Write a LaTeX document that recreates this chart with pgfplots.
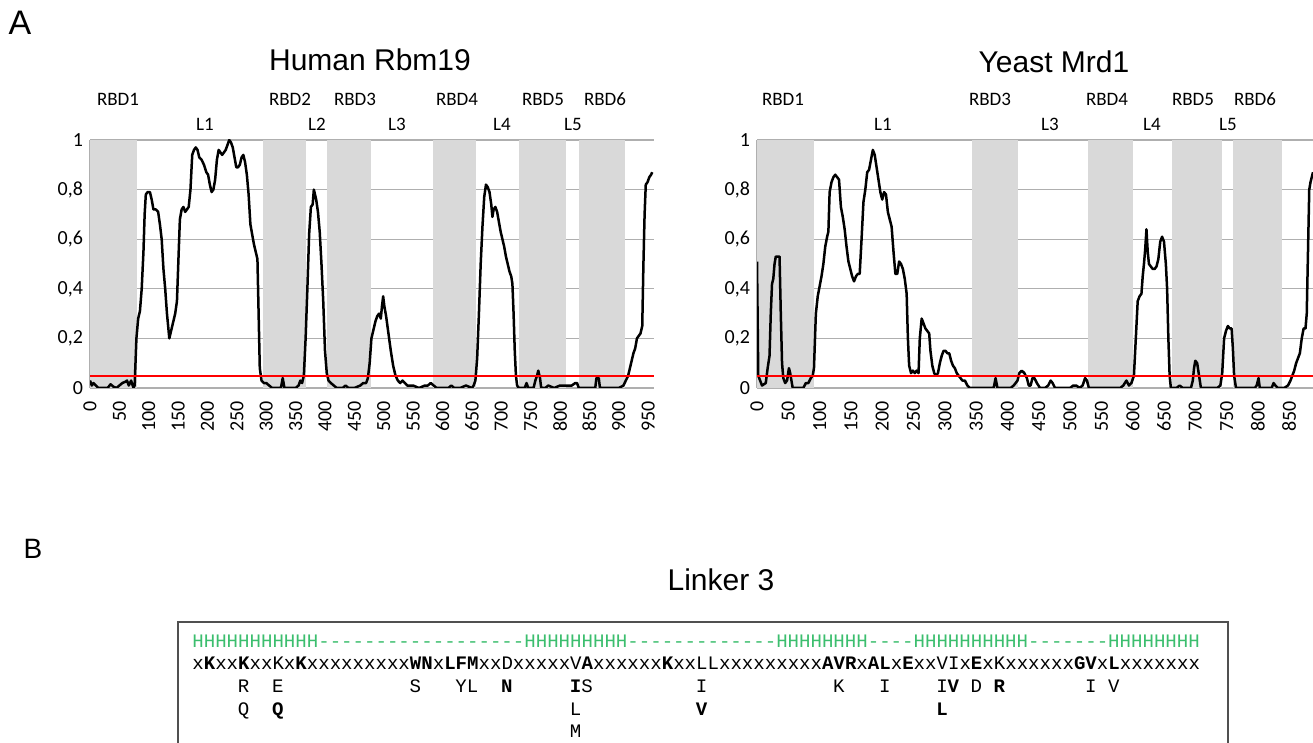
\documentclass[border=0pt]{standalone}
\usepackage{fontspec}
\usepackage{pgfplots}
\pgfplotsset{compat=1.18}
\usepackage{pgfplotstable}
\setmainfont{Liberation Sans}
\newfontfamily\chartfont{Carlito}
\newfontfamily\seqfont{Liberation Mono}

\definecolor{bandgray}{RGB}{217,217,217}
\definecolor{gridgray}{RGB}{175,175,175}
\definecolor{helixgreen}{RGB}{60,190,110}
\definecolor{boxgray}{RGB}{80,80,80}

% disorder profile, human Rbm19
\pgfplotstableread{
x y
0 0.03
3 0.01
6 0.02
10 0.01
14 0.0
20 0.0
30 0.0
35 0.015
40 0.005
45 0.0
50 0.01
55 0.02
60 0.025
63 0.03
66 0.01
70 0.03
74 0.0
76 0.01
79 0.2
82 0.28
85 0.31
88 0.4
91 0.55
93 0.7
95 0.78
98 0.79
102 0.79
105 0.76
108 0.72
112 0.72
116 0.71
119 0.66
122 0.6
125 0.48
128 0.4
131 0.3
135 0.2
138 0.23
142 0.27
145 0.3
148 0.35
151 0.55
153 0.68
156 0.72
159 0.73
162 0.71
165 0.72
168 0.73
171 0.8
174 0.94
177 0.96
180 0.97
183 0.96
186 0.93
190 0.92
194 0.9
198 0.87
201 0.86
204 0.82
207 0.79
210 0.8
213 0.84
216 0.92
219 0.96
222 0.95
225 0.94
228 0.95
231 0.96
234 0.98
237 1.0
240 0.99
243 0.97
246 0.93
249 0.89
252 0.89
255 0.90
258 0.93
261 0.94
264 0.91
267 0.86
270 0.78
273 0.66
276 0.62
279 0.58
282 0.55
285 0.52
287 0.3
289 0.08
292 0.03
296 0.02
300 0.02
305 0.01
310 0.0
318 0.0
325 0.0
328 0.04
331 0.0
340 0.0
350 0.0
355 0.01
358 0.03
361 0.02
364 0.05
367 0.2
370 0.4
373 0.62
376 0.73
379 0.74
381 0.8
383 0.78
385 0.76
388 0.71
391 0.63
394 0.5
397 0.35
400 0.15
403 0.06
406 0.03
410 0.02
415 0.01
420 0.0
430 0.0
435 0.01
440 0.0
450 0.0
460 0.01
465 0.02
470 0.02
473 0.04
476 0.1
479 0.2
483 0.24
486 0.27
489 0.29
492 0.3
495 0.28
497 0.33
499 0.37
501 0.33
504 0.29
508 0.22
512 0.15
516 0.09
520 0.05
524 0.03
528 0.02
532 0.03
536 0.02
540 0.01
550 0.01
560 0.0
570 0.01
575 0.01
580 0.02
585 0.01
590 0.0
600 0.0
610 0.0
615 0.01
620 0.0
630 0.0
640 0.01
650 0.0
653 0.01
656 0.03
659 0.12
662 0.3
665 0.5
668 0.65
671 0.77
674 0.82
677 0.81
680 0.79
683 0.74
685 0.69
687 0.72
690 0.73
693 0.71
696 0.67
699 0.63
702 0.6
705 0.57
708 0.53
711 0.5
714 0.47
717 0.45
719 0.42
721 0.3
723 0.15
725 0.05
727 0.01
730 0.0
740 0.0
743 0.02
746 0.0
755 0.0
758 0.03
761 0.05
763 0.07
766 0.04
768 0.0
775 0.0
780 0.01
790 0.0
800 0.01
810 0.01
820 0.01
826 0.02
829 0.02
832 0.0
850 0.0
860 0.0
862 0.04
866 0.04
868 0.0
880 0.0
900 0.0
908 0.01
912 0.03
916 0.05
919 0.08
922 0.11
925 0.14
928 0.16
931 0.2
934 0.21
937 0.22
940 0.25
942 0.5
944 0.7
946 0.82
949 0.83
952 0.85
955 0.86
957 0.87
}\human

% disorder profile, yeast Mrd1
\pgfplotstableread{
x y
0 0.51
2 0.05
5 0.03
8 0.01
11 0.015
14 0.02
17 0.08
20 0.13
22 0.3
24 0.42
26 0.44
28 0.5
30 0.53
33 0.53
36 0.53
38 0.3
40 0.1
42 0.04
45 0.02
48 0.03
51 0.08
53 0.06
55 0.03
57 0.0
65 0.0
74 0.0
78 0.02
82 0.02
86 0.04
89 0.05
91 0.08
94 0.3
97 0.37
100 0.41
103 0.45
106 0.5
109 0.57
112 0.61
114 0.63
116 0.79
119 0.83
122 0.85
125 0.86
128 0.85
131 0.84
134 0.73
137 0.69
140 0.64
143 0.57
146 0.51
149 0.48
152 0.45
155 0.43
158 0.45
161 0.46
164 0.46
167 0.6
170 0.75
173 0.8
176 0.87
179 0.88
182 0.92
185 0.96
188 0.94
191 0.89
194 0.84
197 0.79
200 0.76
203 0.79
206 0.78
209 0.71
212 0.68
215 0.65
218 0.55
221 0.46
224 0.46
227 0.51
230 0.5
233 0.48
236 0.44
239 0.38
241 0.2
243 0.09
246 0.06
249 0.07
252 0.06
255 0.07
258 0.06
260 0.2
263 0.28
266 0.26
269 0.24
272 0.23
275 0.22
277 0.15
280 0.09
283 0.06
286 0.05
289 0.06
292 0.1
295 0.13
298 0.15
301 0.15
304 0.14
307 0.14
310 0.11
313 0.09
316 0.08
319 0.06
322 0.05
325 0.04
328 0.03
332 0.03
336 0.01
340 0.0
350 0.0
365 0.0
378 0.0
381 0.04
384 0.0
395 0.0
405 0.0
410 0.01
416 0.03
419 0.06
423 0.07
427 0.06
431 0.04
434 0.01
437 0.01
440 0.04
443 0.04
447 0.02
452 0.0
460 0.0
465 0.01
469 0.03
472 0.02
476 0.0
490 0.0
500 0.0
505 0.01
510 0.01
515 0.0
520 0.01
524 0.04
527 0.03
530 0.0
540 0.0
560 0.0
580 0.0
585 0.01
590 0.03
594 0.01
598 0.02
602 0.05
605 0.2
608 0.35
611 0.37
614 0.38
616 0.45
618 0.5
620 0.56
622 0.64
624 0.55
626 0.5
629 0.49
632 0.48
635 0.48
638 0.49
641 0.52
644 0.59
647 0.61
650 0.59
653 0.5
655 0.4
657 0.2
659 0.05
661 0.0
670 0.0
675 0.01
680 0.0
693 0.0
696 0.03
698 0.08
700 0.11
703 0.1
706 0.05
709 0.0
720 0.0
735 0.0
740 0.01
743 0.06
746 0.2
749 0.23
752 0.25
755 0.24
758 0.24
760 0.16
762 0.05
765 0.0
780 0.0
795 0.0
798 0.01
801 0.04
803 0.0
815 0.0
822 0.0
825 0.02
828 0.01
832 0.0
842 0.0
848 0.01
852 0.03
855 0.05
858 0.07
861 0.1
864 0.12
867 0.14
870 0.2
873 0.24
876 0.24
878 0.3
880 0.55
882 0.8
884 0.83
887 0.86
888 0.87
}\yeast

\pgfplotsset{
  profile/.style={
    set layers,
    scale only axis, anchor=south west,
    height=124pt, ymin=0, ymax=1,
    axis x line*=bottom, axis y line*=left,
    axis line style={draw=gridgray, line width=0.6pt, -},
    ytick={0,0.2,0.4,0.6,0.8,1},
    yticklabels={0,{0,2},{0,4},{0,6},{0,8},1},
    ymajorgrids, grid style={draw=gridgray, line width=0.6pt},
    major tick length=0pt,
    xticklabel style={rotate=90, anchor=east, xshift=-3pt},
    tick label style={font=\chartfont\fontsize{10}{12}\selectfont},
    /pgf/number format/assume math mode=true,
  },
  band/.style={fill=bandgray, draw=none, forget plot},
  curve/.style={black, line width=1.25pt, line join=round},
  cutoff/.style={red, line width=1pt},
}

\begin{document}
\begin{tikzpicture}

% ---- Human Rbm19 ----
\begin{axis}[profile, at={(45pt,-194pt)}, width=282pt,
  xmin=0, xmax=960, xtick={0,50,...,950}]
\addplot[band] coordinates {(0,1) (80,1)} \closedcycle;
\addplot[band] coordinates {(294,1) (368,1)} \closedcycle;
\addplot[band] coordinates {(403,1) (478,1)} \closedcycle;
\addplot[band] coordinates {(584,1) (657,1)} \closedcycle;
\addplot[band] coordinates {(730,1) (810,1)} \closedcycle;
\addplot[band] coordinates {(832,1) (911,1)} \closedcycle;
\addplot[curve] table {\human};
\addplot[cutoff] coordinates {(0,0.05) (960,0.05)};
\end{axis}

% ---- Yeast Mrd1 ----
\begin{axis}[profile, at={(378.5pt,-194pt)}, width=278pt,
  xmin=0, xmax=888, xtick={0,50,...,850}]
\addplot[band] coordinates {(0,1) (91,1)} \closedcycle;
\addplot[band] coordinates {(343,1) (417,1)} \closedcycle;
\addplot[band] coordinates {(529,1) (601,1)} \closedcycle;
\addplot[band] coordinates {(663,1) (743,1)} \closedcycle;
\addplot[band] coordinates {(761,1) (838,1)} \closedcycle;
\addplot[curve] table {\yeast};
\addplot[cutoff] coordinates {(0,0.05) (888,0.05)};
\end{axis}

\begin{scope}[x=0.5pt, y=-0.5pt]
% panel letters and titles
\node[font=\fontsize{17}{20}\selectfont] at (20,23) {A};
\node[font=\fontsize{14}{17}\selectfont] at (33,549) {B};
\node[font=\fontsize{15}{18}\selectfont] at (370,60) {Human Rbm19};
\node[font=\fontsize{15}{18}\selectfont] at (1054,62) {Yeast Mrd1};
\node[font=\fontsize{15}{18}\selectfont] at (721,580) {Linker 3};

% domain labels
\begin{scope}[every node/.style={anchor=base, font=\chartfont\fontsize{9.5}{11}\selectfont}]
\node at (118,106) {RBD1};
\node at (205,131) {L1};
\node at (290,106) {RBD2};
\node at (317,131) {L2};
\node at (355,106) {RBD3};
\node at (397,131) {L3};
\node at (457,106) {RBD4};
\node at (502,131) {L4};
\node at (543,106) {RBD5};
\node at (573,131) {L5};
\node at (605,106) {RBD6};
\node at (783,106) {RBD1};
\node at (883,131) {L1};
\node at (990,106) {RBD3};
\node at (1050,131) {L3};
\node at (1107,106) {RBD4};
\node at (1152,131) {L4};
\node at (1193,106) {RBD5};
\node at (1228,131) {L5};
\node at (1255,106) {RBD6};
\end{scope}

% linker 3 alignment box
\draw[boxgray, line width=1pt] (178,622) rectangle (1228,780);
\begin{scope}[every node/.style={inner sep=0pt, font=\seqfont\fontsize{9.54}{11}\selectfont}]
\node[anchor=base west, text=helixgreen] at (192,647)
  {HHHHHHHHHHH------------------HHHHHHHHH-------------HHHHHHHH----HHHHHHHHHH-------HHHHHHHH};
\node[anchor=base west] at (192,669)
  {x\textbf{K}xx\textbf{K}xxKx\textbf{K}xxxxxxxxx\textbf{WN}x\textbf{LFM}xxDxxxxxV\textbf{A}xxxxxx\textbf{K}xxLLxxxxxxxxx\textbf{AVR}x\textbf{AL}x\textbf{E}xxVIx\textbf{E}xKxxxxxx\textbf{GV}x\textbf{L}xxxxxxx};
\foreach \i/\c in {4/R,7/E,19/S,23/Y,24/L,34/S,44/I,56/K,60/I,65/I,68/D,78/I,80/V}
  \node[anchor=base] at ({192+11.45*(\i+0.5)},692) {\c};
\foreach \i/\c in {27/N,33/I,66/V,70/R}
  \node[anchor=base] at ({192+11.45*(\i+0.5)},692) {\textbf{\c}};
\foreach \i/\c in {4/Q,33/L}
  \node[anchor=base] at ({192+11.45*(\i+0.5)},715) {\c};
\foreach \i/\c in {7/Q,44/V,65/L}
  \node[anchor=base] at ({192+11.45*(\i+0.5)},715) {\textbf{\c}};
\node[anchor=base] at ({192+11.45*33.5},737) {M};
\end{scope}
\end{scope}

% page = the reference frame
\pgfresetboundingbox
\path[use as bounding box] (0pt,0pt) rectangle (656.5pt,-371.5pt);
\end{tikzpicture}
\end{document}
